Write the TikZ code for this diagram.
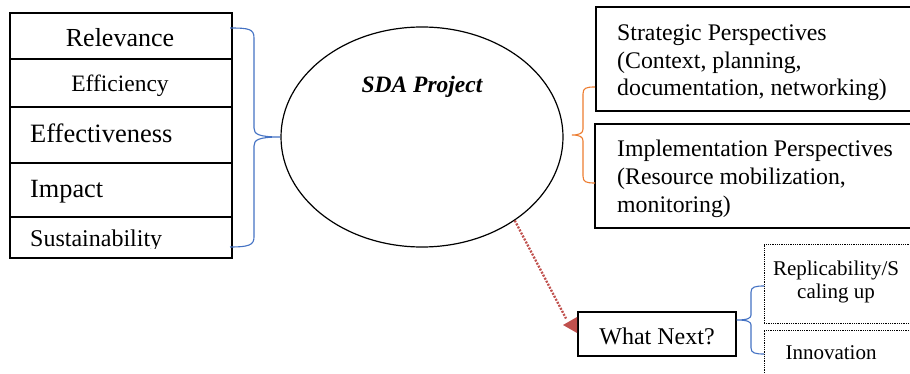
\documentclass[tikz,border=0pt]{standalone}
\usepackage{fontspec}
\setmainfont{Liberation Serif}
\usetikzlibrary{shapes.geometric}
\definecolor{bblue}{HTML}{4472C4}
\definecolor{borange}{HTML}{ED7D31}
\definecolor{ared}{HTML}{C0504D}
\newcommand{\fs}[1]{\fontsize{#1}{#1}\selectfont}
\tikzset{
  box/.style={draw=black, line width=1.5pt, rectangle, inner sep=0pt},
  dbox/.style={draw=black, line width=0.9pt, dash pattern=on 0.9pt off 0.9pt, rectangle, inner sep=0pt},
  txt/.style={inner sep=0pt, anchor=base},
  ltxt/.style={inner sep=0pt, anchor=base west},
  brace/.style={line width=1.1pt},
}
\begin{document}
\begin{tikzpicture}[x=1pt,y=-1pt]
\clip (0,0) rectangle (910,374);
\fill[white] (0,0) rectangle (910,374);
% left stack
\node[box, minimum width=222pt, minimum height=46pt] (r1) at (121,36) {};
\node[box, minimum width=222pt, minimum height=48pt] (r2) at (121,83) {};
\node[box, minimum width=222pt, minimum height=56pt] (r3) at (121,135) {};
\node[box, minimum width=222pt, minimum height=54pt] (r4) at (121,190) {};
\node[box, minimum width=222pt, minimum height=41pt] (r5) at (121,237.5) {};
\node[txt, font=\fs{26}] (t1) at (120,47) {Relevance};
\node[txt, font=\fs{23.5}] (t2) at (120,92) {Efficiency};
\node[ltxt, font=\fs{26.5}] (t3) at (30,143) {Effectiveness};
\node[ltxt, font=\fs{26.3}] (t4) at (30,198) {Impact};
\begin{scope}
\clip (11,218) rectangle (231,248);
\node[ltxt, font=\fs{24}] (t5) at (30,247) {Sustainability};
\end{scope}
% ellipse
\node[ellipse, draw=black, line width=1.2pt, minimum width=282pt, minimum height=220pt, inner sep=0pt] (sda) at (422,137) {};
\node[txt, font=\fs{23.5}\bfseries\itshape] (sdat) at (422,93) {SDA Project};
% left brace
\draw[bblue, brace] (230,28) .. controls (249,28) and (254,29) .. (254,38) -- (254,128)
  .. controls (254,134) and (258,137) .. (sda.west)
  .. controls (258,137) and (254,140) .. (254,146) -- (254,237)
  .. controls (254,245) and (249,247) .. (230,247);
% right boxes
\node[box, minimum width=320pt, minimum height=104pt] (sp) at (756,59) {};
\node[box, minimum width=320pt, minimum height=104pt] (ip) at (755,176) {};
\node[ltxt, font=\fs{23.8}] (s1) at (617,41) {Strategic Perspectives};
\node[ltxt, font=\fs{23.8}] (s2) at (617,68.5) {(Context, planning,};
\node[ltxt, font=\fs{23.8}] (s3) at (617,96) {documentation, networking)};
\node[ltxt, font=\fs{23.8}] (i1) at (617,157) {Implementation Perspectives};
\node[ltxt, font=\fs{23.8}] (i2) at (617,184.5) {(Resource mobilization,};
\node[ltxt, font=\fs{23.8}] (i3) at (617,212) {monitoring)};
% orange brace
\draw[borange, brace] (595,87) .. controls (586,87) and (583,88) .. (583,94) -- (583,129)
  .. controls (583,133) and (580,135) .. (572,135)
  .. controls (580,135) and (583,137) .. (583,141) -- (583,176)
  .. controls (583,182) and (586,183) .. (595,183);
% what next
\node[box, minimum width=158pt, minimum height=44pt] (wn) at (657,334) {};
\node[txt, font=\fs{24}] (wnt) at (657,344) {What Next?};
\coordinate (ae) at (566,318.5);
\draw[ared, line width=2.3pt, dash pattern=on 2pt off 1.4pt] (sda.-42) -- (ae);
\fill[ared] (563,325) -- (577,317) -- (577,333) -- cycle;
% dotted boxes
\node[dbox, minimum width=160pt, minimum height=79pt] (rb) at (844,283.5) {};
\node[dbox, minimum width=160pt, minimum height=50pt] (nb) at (844,355) {};
\node[txt, font=\fs{21}] (rt1) at (836,275) {Replicability/S};
\node[txt, font=\fs{21}] (rt2) at (836,298) {caling up};
\node[txt, font=\fs{21}] (nt) at (831,359) {Innovation};
% small blue brace
\draw[bblue, brace] (764,286) .. controls (755,286) and (751,287) .. (751,292) -- (751,315)
  .. controls (751,318) and (748,320) .. (wn.east |- 0,320)
  .. controls (748,320) and (751,322) .. (751,325) -- (751,348)
  .. controls (751,353) and (755,354) .. (764,354);
\end{tikzpicture}
\end{document}
